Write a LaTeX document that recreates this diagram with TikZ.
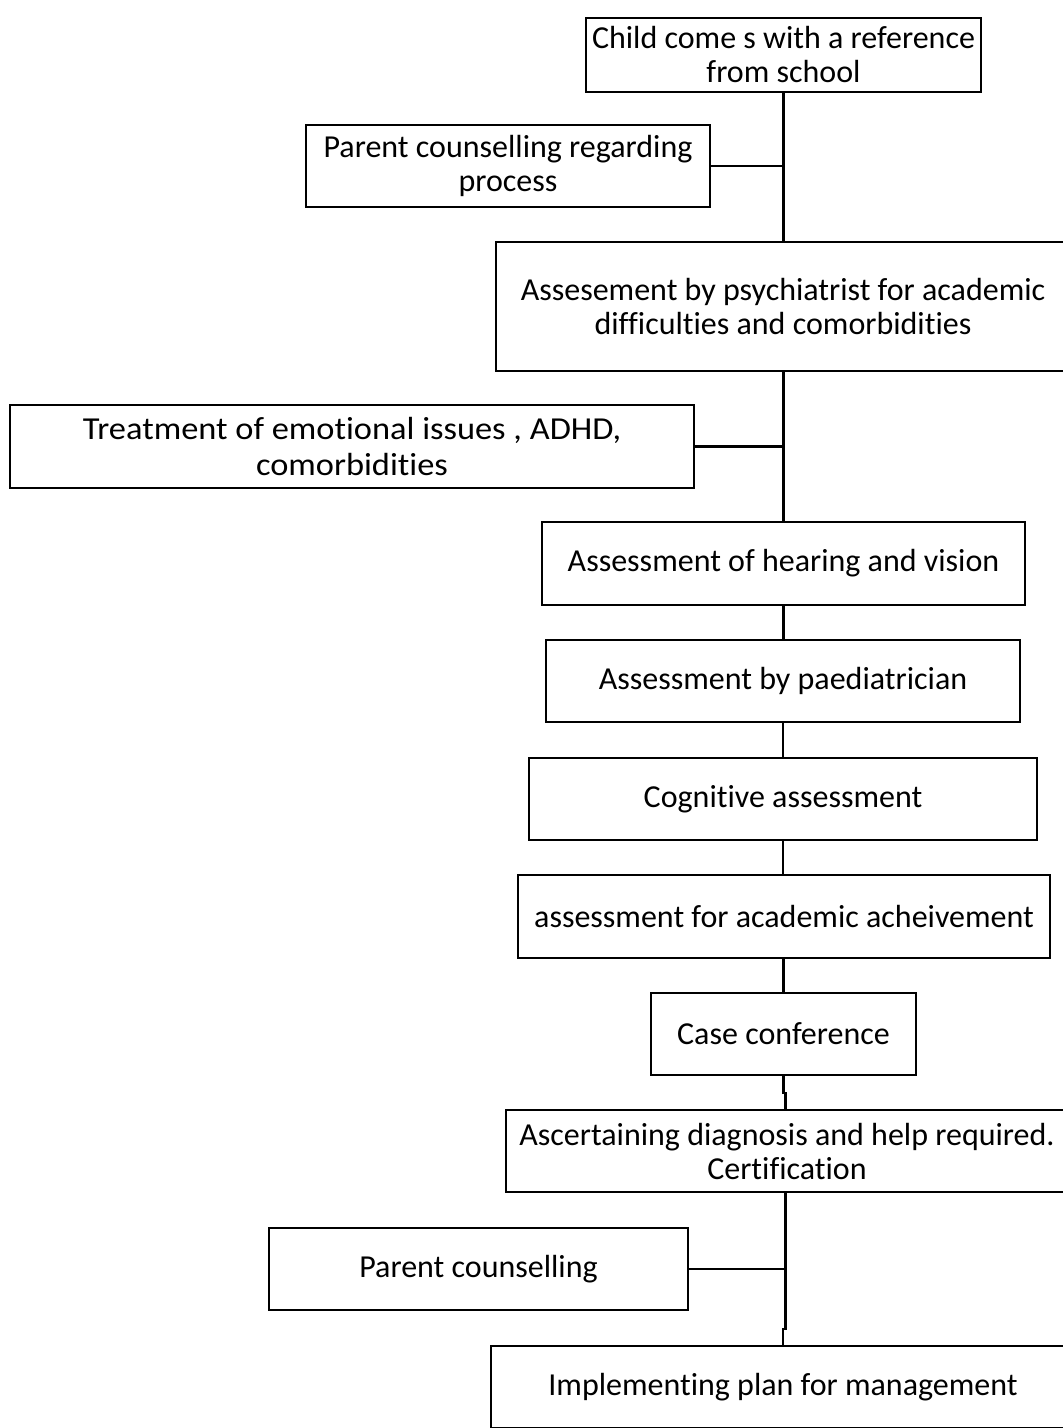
\documentclass[tikz,border=0pt]{standalone}
\usepackage{fontspec}
\setmainfont{Carlito}[Ligatures=NoCommon]
\newfontfamily\widefont{Carlito}[FakeStretch=1.075,Ligatures=NoCommon]
\usetikzlibrary{positioning,calc}

\begin{document}
\begin{tikzpicture}[x=0.5pt,y=-0.5pt,
    stage/.style={draw,line width=1pt,align=center,inner sep=0pt,
        font=\fontsize{16}{17}\selectfont},
    link/.style={line width=1.2pt}]
    \useasboundingbox (0,0) rectangle (1063,1428);
    \clip (0,0) rectangle (1063,1428);

    % main column of steps
    \node[stage,minimum width=197.5pt,minimum height=37pt] (child) at (783.5,55)
        {Child come s with a reference\\from school};
    \node[stage,minimum width=287pt,minimum height=64.5pt] (psych) at (783,306.5)
        {Assesement by psychiatrist for academic\\difficulties and comorbidities};
    \node[stage,minimum width=241.5pt,minimum height=41.5pt] (hearing) at (783.5,563.5)
        {Assessment of hearing and vision};
    \node[stage,minimum width=237pt,minimum height=41pt] (paed) at (783,681)
        {Assessment by paediatrician};
    \node[stage,minimum width=254pt,minimum height=41pt] (cognitive) at (783,799)
        {Cognitive assessment};
    \node[stage,minimum width=266pt,minimum height=41.5pt] (academic) at (784,916.5)
        {assessment for academic acheivement};
    \node[stage,minimum width=132.5pt,minimum height=41pt] (conference) at (783.5,1034)
        {Case conference};
    \node[stage,minimum width=281pt,minimum height=41pt] (diagnosis) at (787,1151)
        {Ascertaining diagnosis and help required.\\Certification};
    \node[stage,minimum width=292pt,minimum height=41pt] (plan) at (783,1387)
        {Implementing plan for management};

    % side steps
    \node[stage,minimum width=202pt,minimum height=41pt] (counsel) at (508,166)
        {Parent counselling regarding\\process};
    \node[stage,minimum width=342pt,minimum height=41.5pt,
        font=\widefont\fontsize{16}{18}\selectfont] (treat) at (352,446.5)
        {Treatment of emotional issues , ADHD,\\comorbidities};
    \node[stage,minimum width=209.5pt,minimum height=41pt] (parentc) at (478.5,1269)
        {Parent counselling};

    % trunk
    \draw[link] (child.south) -- (child.south |- psych.north);
    \draw[link] (child.south |- psych.south) -- (child.south |- hearing.north);
    \draw[link] (hearing.south) -- (hearing.south |- paed.north);
    \draw[link] (paed.south) -- (cognitive.north);
    \draw[link] (cognitive.south) -- (cognitive.south |- academic.north);
    \draw[link] (conference.south |- academic.south) -- (conference.north);
    \draw[link] (conference.south) -- ++(0,17) -| ($(conference.south)+(2,35)$);
    \draw[link] ($(conference.south |- diagnosis.south)+(2,0)$) -- ++(0,136) -| (plan.north);

    % branches
    \draw[link] (counsel.east) -- (counsel.east -| child.south);
    \draw[link] (treat.east) -- (treat.east -| child.south);
    \draw[link] (parentc.east) -- ++(96,0);
\end{tikzpicture}
\end{document}
